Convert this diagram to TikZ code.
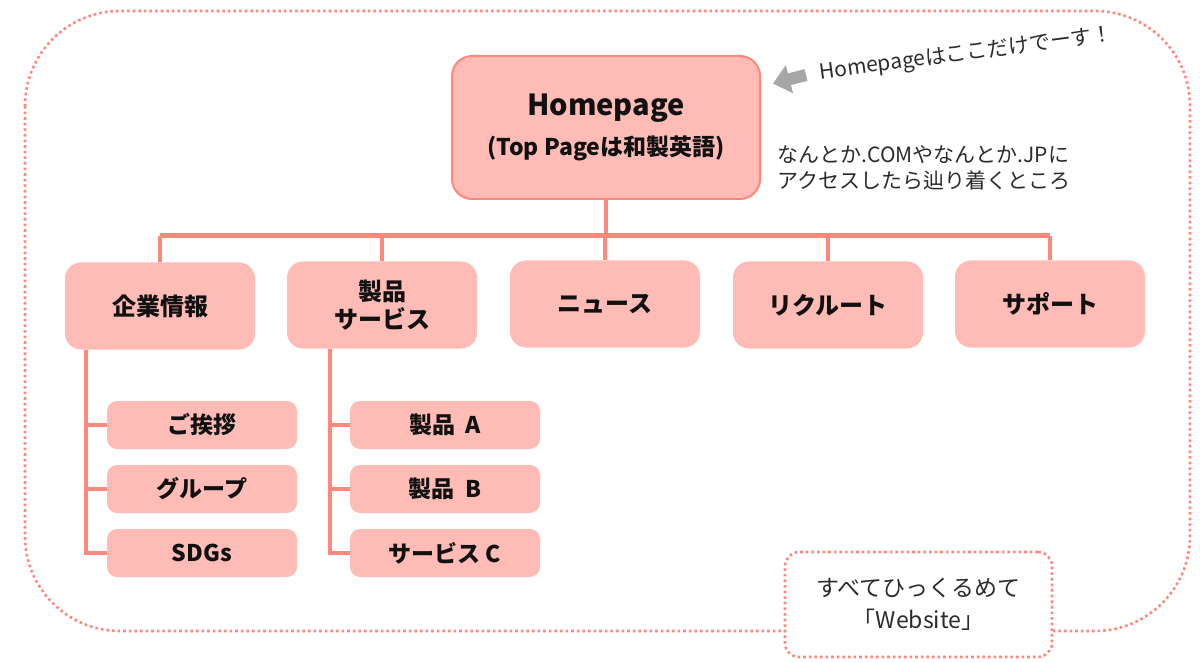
\documentclass[tikz,border=0pt]{standalone}
\usepackage{fontspec}
\setmainfont{Noto Sans CJK JP}
\usepackage{xcolor}
\usepackage{tikz}
\usetikzlibrary{calc,arrows.meta}
\definecolor{boxfill}{HTML}{FFBCB6}
\definecolor{salmon}{HTML}{FF877C}
\definecolor{ink}{HTML}{111111}
\definecolor{note}{HTML}{2B2B2B}
\definecolor{pointer}{HTML}{A6A6A6}
\tikzset{
  x=1pt, y=-1pt,
  homeBox/.style={draw=salmon, line width=2pt, fill=boxfill, rounded corners=20pt,
    minimum width=308pt, minimum height=143pt, align=center, text=ink, font=\bfseries},
  topBox/.style={fill=boxfill, rounded corners=16pt, minimum width=190pt, minimum height=87pt,
    align=center, text=ink, font=\fontsize{24}{28}\selectfont\bfseries},
  subBox/.style={fill=boxfill, rounded corners=10pt, minimum width=190pt, minimum height=48pt,
    text=ink, font=\fontsize{23}{26}\selectfont\bfseries},
  link/.style={draw=salmon, line width=3.5pt},
  bar/.style={draw=salmon, line width=5pt},
  dotLine/.style={draw=salmon, line width=2.6pt, dash pattern=on 2.6pt off 3pt},
  noteLbl/.style={text=note, font=\fontsize{21}{26}\selectfont, align=left},
  arrowBlk/.style={draw=pointer, line width=12pt, -{Triangle[length=17pt, width=28pt]}},
}
\newcommand{\SiteCoords}{%
  \coordinate (barY) at (0,236);
  \coordinate (trunkL) at (86,0);
  \coordinate (trunkR) at (330,0);
}
\begin{document}
\begin{tikzpicture}
  \useasboundingbox (0,0) rectangle (1200,663);
  \SiteCoords
  \draw[dotLine] (25,11) [rounded corners=95pt] rectangle (1190,631);

  \node[homeBox] (home) at (606,127.5)
    {{\fontsize{29}{32}\selectfont Homepage}\\[12pt]{\fontsize{23}{26}\selectfont (Top Pageは和製英語)}};

  \node[topBox] (corp)    at (160,306) {企業情報};
  \node[topBox] (prod)    at (382,305) {製品\\サービス};
  \node[topBox] (news)    at (605,304) {ニュース};
  \node[topBox] (recruit) at (828,305) {リクルート};
  \node[topBox] (support) at (1050,304) {サポート};

  \draw[link] (home.south) -- (home.south |- barY);
  \draw[bar] (corp.north |- barY) -- (support.north |- barY);
  \foreach \n in {corp,prod,news,recruit,support}
    \draw[link] (\n.north) -- (\n.north |- barY);

  \node[subBox] (greet) at (202,425) {ご挨拶};
  \node[subBox] (group) at (202,489) {グループ};
  \node[subBox] (sdgs)  at (202,553) {SDGs};
  \node[subBox] (prodA) at (445,425) {製品\ \ A};
  \node[subBox] (prodB) at (445,489) {製品\ \ B};
  \node[subBox] (servC) at (445,553) {サービス\ C};

  \draw[link] (corp.south -| trunkL) -- (trunkL |- sdgs.west) -- (sdgs.west);
  \draw[link] (trunkL |- greet.west) -- (greet.west);
  \draw[link] (trunkL |- group.west) -- (group.west);
  \draw[link] (prod.south -| trunkR) -- (trunkR |- servC.west) -- (servC.west);
  \draw[link] (trunkR |- prodA.west) -- (prodA.west);
  \draw[link] (trunkR |- prodB.west) -- (prodB.west);

  \coordinate (arrowTail) at (806,75);
  \draw[arrowBlk] (arrowTail) -- ($(home.east)+(12,-44)$);
  \node[noteLbl, anchor=west, rotate=7.5] (callout) at (816,74) {Homepageはここだけでーす！};
  \node[noteLbl, anchor=west] (reach) at (774,168) {なんとか.COMやなんとか.JPに\\アクセスしたら辿り着くところ};

  \node[dotLine, fill=white, rounded corners=14pt, minimum width=267pt, minimum height=105pt,
    align=center, text=note, font=\fontsize{23}{32}\selectfont] (site) at (918.5,604.5)
    {すべてひっくるめて\\「Website」};
\end{tikzpicture}
\end{document}
